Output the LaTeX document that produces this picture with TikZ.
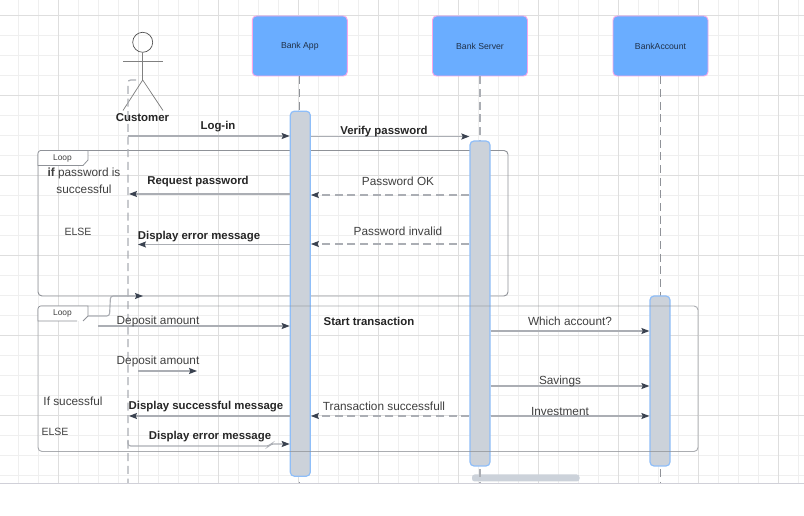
\documentclass[tikz,border=0pt]{standalone}
\usepackage{fontspec}
\setmainfont{Liberation Sans}
\usetikzlibrary{arrows.meta}
\definecolor{gridminor}{HTML}{EFEFEF}
\definecolor{gridmajor}{HTML}{DEDEDE}
\definecolor{gridedge}{HTML}{D0D0D8}
\definecolor{boxfill}{HTML}{6AADFF}
\definecolor{boxpink}{HTML}{F7A6E8}
\definecolor{barfill}{HTML}{CCD2DA}
\definecolor{barline}{HTML}{8FBEF8}
\definecolor{lineg}{HTML}{ABAEB4}
\definecolor{lined}{HTML}{8F9298}
\definecolor{tipc}{HTML}{3A4250}
\definecolor{textc}{HTML}{404040}
\definecolor{headtext}{HTML}{1F3048}
\tikzset{
  px/.style={x=0.75pt,y=-0.75pt},
  headbox/.style={draw=boxpink,fill=boxfill,line width=0.7pt,rounded corners=3pt,minimum width=71.25pt,minimum height=45pt,inner sep=0pt,font=\fontsize{6.5}{8}\selectfont,text=headtext},
  barbox/.style={draw=barline,fill=barfill,line width=0.9pt,rounded corners=3pt,minimum width=15pt,inner sep=0pt},
  lbl/.style={font=\fontsize{8.85}{10}\selectfont,text=textc,inner sep=0pt},
  elselbl/.style={font=\fontsize{7.9}{10}\selectfont,text=textc,inner sep=0pt},
  blbl/.style={font=\fontsize{8.55}{10}\selectfont\bfseries,text=black!85,inner sep=0pt},
  tablbl/.style={font=\fontsize{6.3}{8}\selectfont,text=textc,inner sep=0pt},
  msg/.style={draw=lineg,line width=0.85pt,-{Stealth[length=6pt,width=4.5pt,inset=1pt,color=tipc]}},
  dmsg/.style={msg,dash pattern=on 6pt off 3.5pt},
  framebox/.style={draw=lined,line width=0.7pt,rounded corners=3pt},
  life/.style={draw=lined,line width=0.6pt,dash pattern=on 6pt off 3.5pt},
  tabline/.style={draw=lined,line width=0.6pt},
}
\begin{document}
\begin{tikzpicture}[px]
\useasboundingbox (0,0) rectangle (804,516);
\fill[white] (0,0) rectangle (804,516);
% grid
\foreach \x in {18.3,38.3,...,800} \draw[gridminor,line width=0.7pt] (\x,0) -- (\x,483);
\foreach \y in {15,35,...,480} \draw[gridminor,line width=0.7pt] (0,\y) -- (804,\y);
\foreach \x in {58.3,138.3,...,800} \draw[gridmajor,line width=0.7pt] (\x,0) -- (\x,483);
\foreach \y in {15,95,...,480} \draw[gridmajor,line width=0.7pt] (0,\y) -- (804,\y);
\draw[gridedge,line width=0.7pt] (0,483.3) -- (804,483.3);
% scrollbar
\fill[barfill,rounded corners=2pt] (472,474.5) rectangle (579.5,481.5);
% heads
\node[headbox] (app) at (299.8,46) {Bank App};
\node[headbox] (server) at (480,46) {Bank Server};
\node[headbox] (account) at (660.5,46) {BankAccount};
% lifelines
\coordinate (append) at (299.3,483);
\coordinate (serverend) at (480,483);
\coordinate (accountend) at (660.3,483);
\coordinate (custend) at (128,483);
\draw[life] (app.south -| append) -- (append);
\draw[life,draw=lineg,line width=0.9pt] (server.south -| serverend) -- (serverend);
\draw[life] (account.south -| accountend) -- (accountend);
% frame 1
\draw[framebox] (38,296) rectangle (508,150.5);
% actor
\coordinate (hip) at (142.7,80);
\node[circle,draw=black!70,line width=0.5pt,minimum size=15pt,inner sep=0pt] (head) at (142.7,42.3) {};
\draw[black!50,line width=0.55pt] (head.south) -- (hip);
\draw[black!50,line width=0.55pt] (123,61.7) -- (163,61.7);
\draw[black!50,line width=0.55pt] (123,110.5) -- (hip) -- (163,110.5);
\draw[draw=lineg,line width=0.9pt,dash pattern=on 6pt off 3.5pt,rounded corners=2pt] (136,80) -- (128,80) -- (custend);
\node[blbl] (customer) at (142.5,118) {Customer};
% activation bars
\node[barbox,minimum height=273.75pt] (appbar) at (300.3,293.7) {};
\node[barbox,minimum height=243.75pt] (serverbar) at (480,303.5) {};
\node[barbox,minimum height=127.5pt] (accountbar) at (660,381) {};
% tab 1
\fill[white] (38,165.5) -- (38,150.5) -- (88,150.5) -- (88,160) -- (83,165.5) -- cycle;
\draw[tabline] (38,165.5) [rounded corners=2pt] -- (38,150.5) [sharp corners] -- (88,150.5) -- (88,160) -- (83,165.5) -- cycle;
\node[tablbl] (looplabA) at (62.5,158.3) {Loop};
% frame 2
\draw[framebox,draw opacity=0.75] (38,451.5) rectangle (698,306);
\fill[white] (38,321) -- (38,306) -- (88,306) -- (88,316) -- (83,321) -- cycle;
\draw[tabline] (77,321) -- (38,321) [rounded corners=2pt] -- (38,306) [sharp corners] -- (88,306) -- (88,316) -- (83,321);
\node[tablbl] (looplabB) at (62.5,313.8) {Loop};
% free coordinates
\coordinate (c1) at (128,136);
\coordinate (c2) at (129,194);
\coordinate (c3) at (138,244.5);
\coordinate (c4) at (98,326);
\coordinate (c5) at (138,371);
\coordinate (c5b) at (197,371);
\coordinate (c6) at (129,416);
\coordinate (c7) at (128,440);
\coordinate (c8) at (143,296);
\coordinate (c9) at (88,316);
% messages
\draw[msg] (c1) -- (appbar.west |- c1);
\draw[msg,line width=1pt] (appbar.east |- 0,136.5) -- (serverbar.west |- 0,136.5);
\draw[msg] (appbar.west |- c2) -- (c2);
\draw[dmsg] (serverbar.west |- 0,195) -- (appbar.east |- 0,195);
\draw[msg] (appbar.west |- c3) -- (c3);
\draw[dmsg] (serverbar.west |- 0,244) -- (appbar.east |- 0,244);
\draw[msg,rounded corners=2pt] (c9) -- (109.5,316) -- (110.5,296) -- (c8);
\draw[msg] (c4) -- (appbar.west |- c4);
\draw[msg] (c5) -- (c5b);
\draw[msg] (serverbar.east |- 0,331) -- (accountbar.west |- 0,331);
\draw[msg] (serverbar.east |- 0,386) -- (accountbar.west |- 0,386);
\draw[msg] (serverbar.east |- 0,416) -- (accountbar.west |- 0,416);
\draw[dmsg] (serverbar.west |- 0,416) -- (appbar.east |- 0,416);
\draw[msg] (appbar.west |- c6) -- (c6);
\draw[msg,rounded corners=2pt] (c7) -- (128,446) -- (269,446) -- (271,444) -- (appbar.west |- 0,444);
% labels
\node[blbl] (t1) at (218,126.5) {Log-in};
\node[blbl] (t2) at (384,131.5) {Verify password};
\node[lbl] (t3) at (84,173.5) {\textbf{if} password is};
\node[lbl] (t4) at (84,189.5) {successful};
\node[blbl] (t5) at (198,181.5) {Request password};
\node[lbl] (t6) at (398,181.5) {Password OK};
\node[elselbl] (t7) at (78,231.5) {ELSE};
\node[blbl] (t8) at (199,236.5) {Display error message};
\node[lbl] (t9) at (398,231.5) {Password invalid};
\node[lbl] (t10) at (158,321.5) {Deposit amount};
\node[blbl] (t11) at (369,321.5) {Start transaction};
\node[lbl] (t12) at (570,321.5) {Which account?};
\node[lbl] (t13) at (158,361.5) {Deposit amount};
\node[lbl] (t14) at (560,381.5) {Savings};
\node[lbl] (t15) at (73,401.5) {If sucessful};
\node[blbl] (t16) at (206,406.5) {Display successful message};
\node[lbl] (t17) at (384,406.5) {Transaction successfull};
\node[lbl] (t18) at (560,411.5) {Investment};
\node[elselbl] (t19) at (55,431.5) {ELSE};
\node[blbl] (t20) at (210,436.5) {Display error message};
\end{tikzpicture}
\end{document}
